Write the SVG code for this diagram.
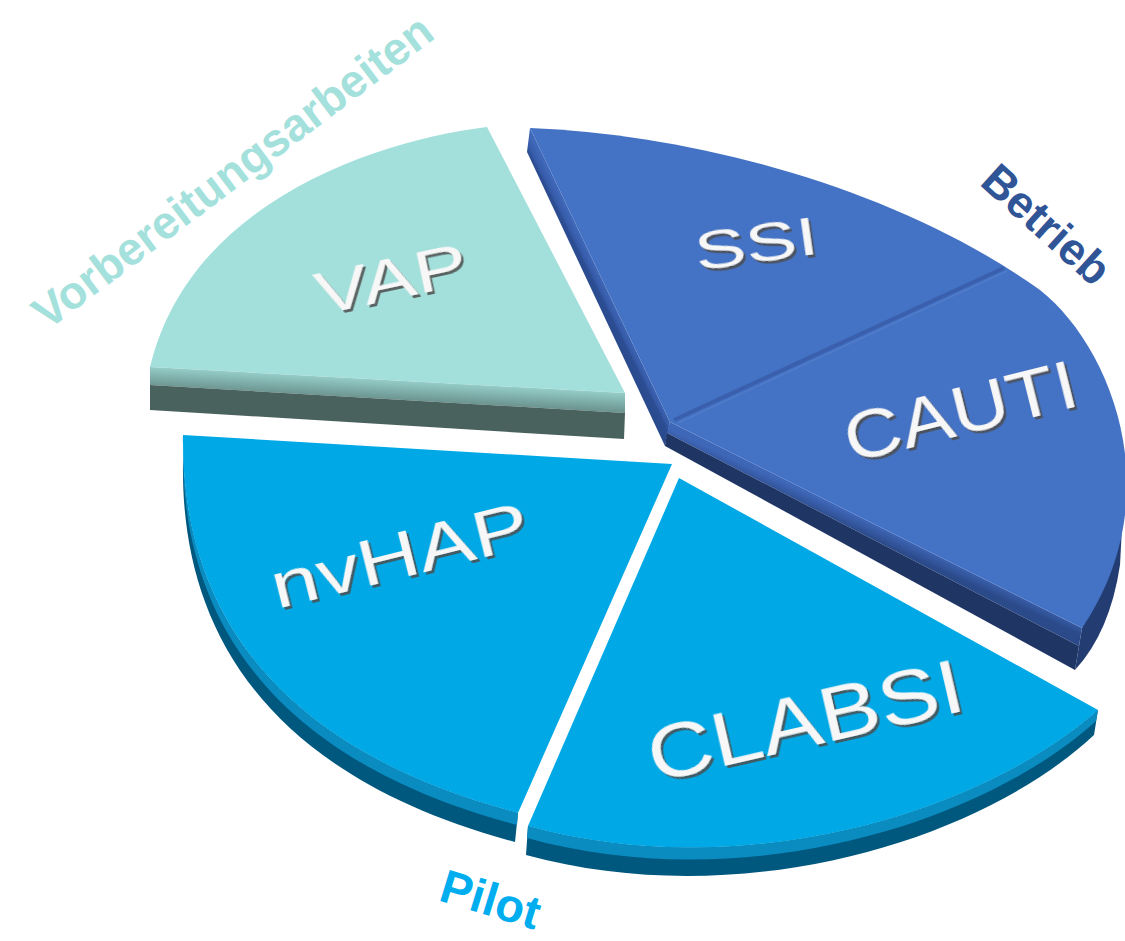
<svg xmlns="http://www.w3.org/2000/svg" width="1125" height="941" viewBox="0 0 1125 941">
<defs>
<style>
.lbl{font-family:"Liberation Sans",Arial,sans-serif;fill:#f7f7f7;filter:url(#ts);}
.cat{font-family:"Liberation Sans",Arial,sans-serif;font-weight:bold;}
.vapTop{fill:#a3e0dc;}
.blueTop{fill:#4472c4;}
.pilotTop{fill:#00a9e6;}
.pilotSide{fill:#00587e;}
.pilotBevel{fill:#0b8cc0;}
</style>
<filter id="ts" x="-10%" y="-20%" width="130%" height="160%">
<feDropShadow dx="2" dy="3" stdDeviation="0.7" flood-color="#4d4d4d" flood-opacity="0.85"/>
</filter>
<linearGradient id="vapBevel" gradientUnits="userSpaceOnUse" x1="390" y1="380" x2="388.9" y2="400">
<stop offset="0" stop-color="#95cdc8"/><stop offset="1" stop-color="#6a928e"/>
</linearGradient>
<linearGradient id="ssiLeft" gradientUnits="userSpaceOnUse" x1="600" y1="275" x2="586" y2="282">
<stop offset="0" stop-color="#4068b8"/><stop offset="0.45" stop-color="#3459a6"/><stop offset="0.55" stop-color="#2d4e93"/><stop offset="1" stop-color="#2a4a8e"/>
</linearGradient>
<linearGradient id="ssiBevel" gradientUnits="userSpaceOnUse" x1="876" y1="525" x2="870" y2="538">
<stop offset="0" stop-color="#3f67b8"/><stop offset="1" stop-color="#2b4a8a"/>
</linearGradient>
</defs>
<rect width="1125" height="941" fill="#ffffff"/>

<g id="slice-vap">
<path class="vapTop" d="M487,127 C380,140 190,200 150,367 L625,393 Z"/>
<path fill="url(#vapBevel)" d="M150,367 L625,393 L625,413 L150,385 Z"/>
<path fill="#4a625e" d="M150,385 L625,413 L624,439 L150,410 Z"/>
<text class="lbl" x="395.5" y="299" font-size="60" text-anchor="middle" textLength="154" lengthAdjust="spacingAndGlyphs" transform="rotate(-12 395.5 299)">VAP</text>
</g>

<g id="slice-betrieb">
<path fill="url(#ssiLeft)" d="M530,128 L670,422 L665,446 L527,152 Z"/>
<path fill="#233d72" d="M1082,628 L1122,527 L1120,565 Q1110,632 1075,670 Z"/>
<path fill="url(#ssiBevel)" d="M670,422 L1082,628 L1079,646 L667,433 Z"/>
<path fill="#1f3665" d="M667,433 L1079,646 L1075,670 L665,446 Z"/>
<path class="blueTop" d="M530,128 C700,135 900,190 1040,290 C1110,345 1172,495 1082,628 L670,422 Z"/>
<path fill="none" stroke="#3a60ad" stroke-width="4" d="M674,420 L1004,268"/>
<path fill="none" stroke="#5580cc" stroke-width="1.5" opacity="0.7" d="M678,423 L1007,271"/>
</g>

<g id="slice-ssi">
<text class="lbl" x="758.7" y="262.3" font-size="54" text-anchor="middle" textLength="124" lengthAdjust="spacingAndGlyphs" transform="rotate(-8 758.7 262.3)">SSI</text>
</g>

<g id="slice-cauti">
<text class="lbl" x="966" y="433.6" font-size="68" text-anchor="middle" textLength="238" lengthAdjust="spacingAndGlyphs" transform="rotate(-14 966 433.6)">CAUTI</text>
</g>

<g id="slice-nvhap">
<path class="pilotSide" d="M183,435 C181,585 250,742 518,813 L515,842 C250,771 181,614 183,464 Z"/>
<path class="pilotBevel" d="M183,435 C181,585 250,742 518,813 L517,825 C250,754 181,597 183,447 Z"/>
<path class="pilotTop" d="M183,435 L672,464 L518,813 C250,742 181,585 183,435 Z"/>
<text class="lbl" x="405" y="577.2" font-size="64" text-anchor="middle" textLength="264" lengthAdjust="spacingAndGlyphs" transform="rotate(-14 405 577.2)">nvHAP</text>
</g>

<g id="slice-clabsi">
<path class="pilotSide" d="M1098,710 C980,815 740,885 528,826 L526,855 C738,913 978,843 1094,735 Z"/>
<path class="pilotBevel" d="M1098,710 C980,815 740,885 528,826 L527,838 C739,897 979,827 1096,721 Z"/>
<path class="pilotTop" d="M679,478 L1098,710 C980,815 740,885 528,826 Z"/>
<text class="lbl" x="811" y="745.5" font-size="76" text-anchor="middle" textLength="322" lengthAdjust="spacingAndGlyphs" transform="rotate(-13 811 745.5)">CLABSI</text>
</g>

<g id="label-vorbereitung">
<text class="cat" x="242" y="184" font-size="46" fill="#a5e1dc" text-anchor="middle" transform="rotate(-37 242 184)">Vorbereitungsarbeiten</text>
</g>
<g id="label-betrieb">
<text class="cat" x="1036" y="236" font-size="45" fill="#2f5597" text-anchor="middle" transform="rotate(42 1036 236)">Betrieb</text>
</g>
<g id="label-pilot">
<text class="cat" x="486" y="915" font-size="47" fill="#00aeef" text-anchor="middle" transform="rotate(17 486 915)">Pilot</text>
</g>
<g id="connectors"></g>
</svg>
